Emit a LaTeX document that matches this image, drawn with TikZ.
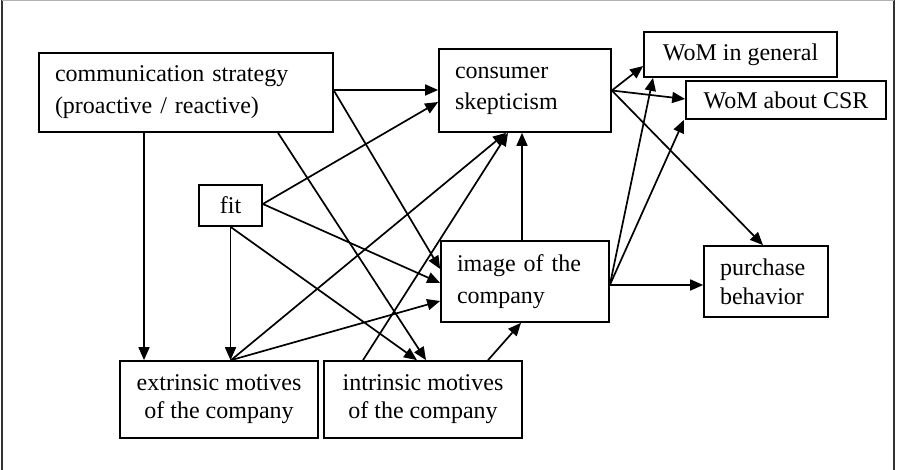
\documentclass[tikz,border=0pt]{standalone}
\usepackage{fontspec}
\setmainfont{Liberation Serif}
\usetikzlibrary{arrows.meta}
\begin{document}
\begin{tikzpicture}[x=1pt,y=-1pt,
  box/.style={draw=black,line width=1.7pt,inner sep=0pt,font=\fontsize{24}{30}\selectfont},
  lbox/.style={box,align=left,inner xsep=16pt,inner ysep=0pt},
  cbox/.style={box,align=center},
  arr/.style={line width=1.7pt,-{Triangle[length=13pt,width=11pt]}}]
\useasboundingbox (0,0) rectangle (903,470);
% frame
\draw[line width=2.5pt,color=black!80] (2,0) -- (2,470);
\draw[line width=2.5pt,color=black!80] (894,0) -- (894,470);
\draw[line width=1.5pt,color=black!30] (2,0.75) -- (894,0.75);
% nodes
\node[lbox,text width=262pt,minimum height=79pt,font=\fontsize{24}{32}\selectfont] (comm) at (186,92.5) {communication strategy\\(proactive / reactive)};
\node[lbox,text width=140pt,minimum height=83pt,font=\fontsize{24}{31}\selectfont] (cons) at (525,90.5) {consumer\\skepticism};
\node[cbox,minimum width=193pt,minimum height=45pt] (womg) at (740.5,54.5) {WoM in general};
\node[cbox,minimum width=200pt,minimum height=38pt] (womc) at (786,100) {WoM about CSR};
\node[cbox,minimum width=63pt,minimum height=41pt] (fit) at (230.5,205.5) {fit};
\node[lbox,text width=136pt,minimum height=81pt,font=\fontsize{24}{32}\selectfont] (img) at (525,281.5) {image of the\\company};
\node[lbox,text width=92pt,minimum height=71pt,font=\fontsize{24}{29}\selectfont] (purch) at (766,281.5) {purchase\\behavior};
\node[cbox,minimum width=198pt,minimum height=77pt,font=\fontsize{24}{28}\selectfont] (ext) at (219,399.5) {extrinsic motives\\of the company};
\node[cbox,minimum width=198pt,minimum height=77pt,font=\fontsize{24}{28}\selectfont] (intr) at (423,399.5) {intrinsic motives\\of the company};
% connectors
\draw[arr] ([xshift=-42pt]comm.south) -- ([xshift=-42pt]comm.south |- ext.north);
\draw[arr] ([yshift=2.5pt]comm.east) -- ([yshift=2.5pt]comm.east -| cons.west);
\draw[arr] ([yshift=2pt]comm.east) -- ([yshift=12.5pt]img.west);
\draw[arr] ([xshift=92pt]comm.south) -- ([xshift=3pt]intr.north);
\draw[arr] ([yshift=1.5pt]fit.east) -- ([yshift=-11.5pt]cons.west);
\draw[arr] ([yshift=1.5pt]fit.east) -- ([yshift=-1.5pt]img.west);
\draw[arr] (fit.south) -- (fit.south |- ext.north);
\draw[arr] (fit.south) -- ([xshift=-6pt]intr.north);
\draw[arr] ([xshift=12pt]ext.north) -- ([xshift=-19pt]cons.south);
\draw[arr] ([xshift=12pt]ext.north) -- ([yshift=-19.5pt]img.west);
\draw[arr] ([xshift=-60pt]intr.north) -- ([xshift=-17pt]cons.south);
\draw[arr] ([xshift=65pt]intr.north) -- ([xshift=-4pt]img.south);
\draw[arr] ([xshift=-3pt]img.north) -- ([xshift=-3pt]cons.south);
\draw[arr] (cons.east) -- ([yshift=-11.5pt]womg.west);
\draw[arr] (cons.east) -- ([yshift=1pt]womc.west);
\draw[arr] (cons.east) -- ([xshift=-3pt]purch.north);
\draw[arr] ([yshift=-3.5pt]img.east) -- ([yshift=-3.5pt]img.east -| purch.west);
\draw[arr] ([yshift=-3.5pt]img.east) -- ([xshift=-87.5pt]womg.south);
\draw[arr] ([yshift=-3.5pt]img.east) -- ([xshift=-102pt]womc.south);
\end{tikzpicture}
\end{document}
